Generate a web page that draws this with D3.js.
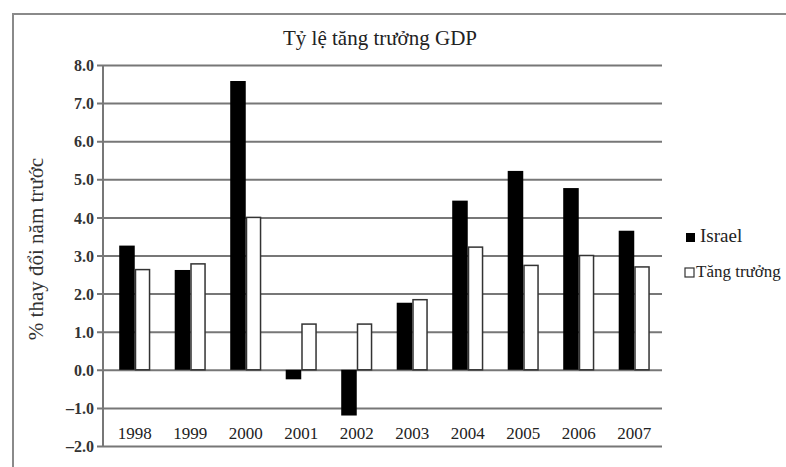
<!DOCTYPE html>
<html>
<head>
<meta charset="utf-8">
<script src="https://cdn.jsdelivr.net/npm/d3@7"></script>
<style>
  html, body { margin: 0; padding: 0; background: #fff; overflow: hidden; }
  svg { display: block; }
  text { font-family: "Liberation Serif", "DejaVu Serif", serif; fill: #222; }
</style>
</head>
<body>
<svg id="chart" width="786" height="467"></svg>
<script>
const years = ["1998","1999","2000","2001","2002","2003","2004","2005","2006","2007"];
const israel = [3.26, 2.62, 7.58, -0.25, -1.2, 1.76, 4.44, 5.22, 4.77, 3.65];
const world  = [2.63, 2.78, 4.0, 1.2, 1.2, 1.84, 3.22, 2.74, 3.0, 2.7];
const seriesNames = ["Israel", "Tăng trưởng"];
const yTicks = [-2, -1, 0, 1, 2, 3, 4, 5, 6, 7, 8];
const title = "Tỷ lệ tăng trưởng GDP";
const yTitle = "% thay đổi năm trước";

(function () {
const svg = d3.select("#chart");
const W = 786, H = 467;
const pLeft = 103, pRight = 662, pTop = 65, pBottom = 446;
const serif = "'Liberation Serif', 'DejaVu Serif', serif";

// outer frame (cropped at right/bottom)
svg.append("path")
  .attr("d", `M13,${H} L13,14 L${W},14`)
  .attr("fill", "none").attr("stroke", "#8a8a8a").attr("stroke-width", 2);

const y = d3.scaleLinear().domain([-2, 8]).range([pBottom, pTop]);
const x0 = d3.scaleBand().domain(years).range([pLeft + 4, pRight])
  .paddingInner(0.44).paddingOuter(0.22);
const x1 = d3.scaleBand().domain([0, 1]).range([0, x0.bandwidth()]);

// gridlines + tick labels via axis
const yAxis = d3.axisLeft(y).tickValues(yTicks)
  .tickSize(6)
  .tickFormat(d => (d < 0 ? "–" + Math.abs(d).toFixed(1) : d.toFixed(1)));
const gy = svg.append("g").attr("transform", `translate(${pLeft - 6},0)`).call(yAxis)
  .attr("font-family", serif);
gy.select(".domain").remove();
gy.selectAll(".tick line").attr("stroke", "#777").attr("stroke-width", 2)
  .attr("x1", 0).attr("x2", pRight - pLeft + 6);
gy.selectAll(".tick text")
  .attr("x", -3)
  .attr("dy", "0.35em")
  .style("font-family", serif)
  .style("font-size", "16px").style("font-weight", "bold").style("fill", "#333");

// left axis line
svg.append("line").attr("x1", pLeft).attr("x2", pLeft)
  .attr("y1", y(8)).attr("y2", y(-2))
  .attr("stroke", "#777").attr("stroke-width", 2);

// bars
const data = years.map((yr, i) => ({ yr, vals: [israel[i], world[i]] }));
const groups = svg.append("g").selectAll("g").data(data).join("g")
  .attr("transform", d => `translate(${x0(d.yr)},0)`);
groups.selectAll("rect").data(d => d.vals.map((v, k) => ({ v, k }))).join("rect")
  .attr("x", d => x1(d.k) + (d.k === 1 ? 0.75 : 0))
  .attr("width", d => x1.bandwidth() - (d.k === 1 ? 1.5 : 0))
  .attr("y", d => y(Math.max(0, d.v)))
  .attr("height", d => Math.abs(y(d.v) - y(0)))
  .attr("fill", d => d.k === 0 ? "#000" : "#fff")
  .attr("stroke", d => d.k === 0 ? "none" : "#333")
  .attr("stroke-width", 1.5);

// category labels
const xAxis = d3.axisBottom(x0).tickSize(0).tickPadding(0);
const gx = svg.append("g").attr("transform", `translate(0,${y(-2) - 7})`).call(xAxis)
  .attr("font-family", serif);
gx.select(".domain").remove();
gx.selectAll(".tick text").attr("dy", 0).attr("y", 0)
  .style("font-family", serif)
  .style("font-size", "17px").style("fill", "#222");

// title
svg.append("text").attr("x", 380).attr("y", 45).attr("text-anchor", "middle")
  .style("font-family", serif).style("font-size", "21px").text(title);

// y title
svg.append("text")
  .attr("transform", `translate(43,249) rotate(-90)`)
  .attr("text-anchor", "middle")
  .style("font-family", serif).style("font-size", "21px").style("fill", "#333").text(yTitle);

// legend
const leg = svg.append("g");
seriesNames.forEach((name, i) => {
  const ly = 237 + i * 35;
  leg.append("rect").attr("x", 686 - i).attr("y", ly - 4)
    .attr("width", 9).attr("height", 9)
    .attr("fill", i === 0 ? "#000" : "#fff")
    .attr("stroke", i === 0 ? "none" : "#333").attr("stroke-width", 1.2);
  leg.append("text").attr("x", i === 0 ? 700 : 696).attr("y", ly + 5)
    .style("font-family", serif).style("font-size", i === 0 ? "19px" : "17px").text(name);
});
})();
</script>
</body>
</html>
